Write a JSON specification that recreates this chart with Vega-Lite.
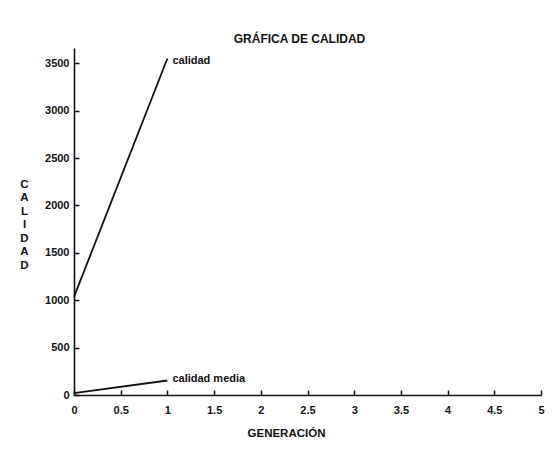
{
  "$schema": "https://vega.github.io/schema/vega-lite/v6.json",
  "autosize": "none",
  "width": 467,
  "height": 347,
  "padding": {"left": 74, "top": 48, "right": 19, "bottom": 62},
  "background": "white",
  "config": {
    "view": {"stroke": null},
    "font": "Liberation Sans",
    "axis": {
      "grid": false,
      "domainColor": "#111",
      "domainWidth": 1.6,
      "tickColor": "#111",
      "tickWidth": 1.5,
      "tickSize": -5,
      "labelFont": "Liberation Sans",
      "labelFontWeight": "bold",
      "labelFontSize": 11,
      "labelColor": "#111",
      "titleFont": "Liberation Sans",
      "titleFontWeight": "bold",
      "titleFontSize": 11.5,
      "titleColor": "#111"
    }
  },
  "title": {
    "text": "GRÁFICA DE CALIDAD",
    "font": "Liberation Sans",
    "fontSize": 12,
    "fontWeight": "bold",
    "color": "#111",
    "anchor": "middle",
    "baseline": "alphabetic",
    "offset": 4,
    "dx": -8,
    "dy": 11
  },
  "datasets": {
    "lines": [
      {"serie": "calidad", "generacion": 0, "valor": 1035},
      {"serie": "calidad", "generacion": 1, "valor": 3550},
      {"serie": "calidad media", "generacion": 0, "valor": 20},
      {"serie": "calidad media", "generacion": 1, "valor": 153}
    ],
    "labels": [
      {"serie": "calidad", "generacion": 1, "valor": 3520},
      {"serie": "calidad media", "generacion": 1, "valor": 165}
    ]
  },
  "layer": [
    {
      "data": {"name": "lines"},
      "mark": {"type": "line", "color": "#111", "strokeWidth": 1.8},
      "encoding": {
        "x": {
          "field": "generacion",
          "type": "quantitative",
          "scale": {"domain": [0, 5], "nice": false, "zero": false},
          "axis": {
            "values": [0, 0.5, 1, 1.5, 2, 2.5, 3, 3.5, 4, 4.5, 5],
            "format": "~g",
            "labelPadding": 14,
            "labelFlush": false,
            "title": "GENERACIÓN",
            "titleX": 212,
            "titleY": 41,
            "titleAlign": "center",
            "titleBaseline": "alphabetic"
          }
        },
        "y": {
          "field": "valor",
          "type": "quantitative",
          "scale": {"domain": [0, 3661], "nice": false},
          "axis": {
            "values": [0, 500, 1000, 1500, 2000, 2500, 3000, 3500],
            "format": "d",
            "labelPadding": 10,
            "labelFlush": false,
            "title": ["C", "A", "L", "I", "D", "A", "D"],
            "titleAngle": 0,
            "titleX": -50,
            "titleY": 130,
            "titleAlign": "center",
            "titleBaseline": "top",
            "titleLineHeight": 13.5
          }
        },
        "detail": {"field": "serie"}
      }
    },
    {
      "data": {"name": "labels"},
      "mark": {"type": "text", "align": "left", "baseline": "middle", "dx": 5, "fontWeight": "bold", "fontSize": 11, "color": "#111"},
      "encoding": {
        "x": {"field": "generacion", "type": "quantitative"},
        "y": {"field": "valor", "type": "quantitative"},
        "text": {"field": "serie"}
      }
    }
  ]
}
